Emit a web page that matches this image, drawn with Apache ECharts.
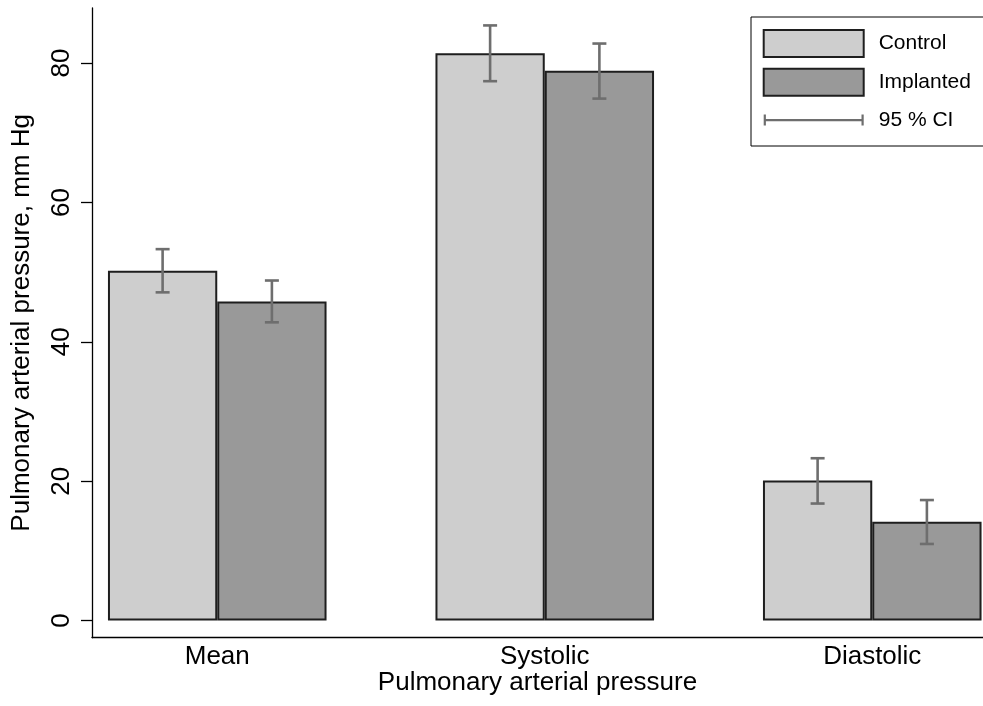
<!DOCTYPE html>
<html>
<head>
<meta charset="utf-8">
<script src="https://cdn.jsdelivr.net/npm/echarts@6/dist/echarts.min.js"></script>
<style>
html,body{margin:0;padding:0;background:#fff;}
#chart{width:983px;height:706px;}
</style>
</head>
<body>
<div id="chart"></div>
<script>
var categories = ['Mean', 'Systolic', 'Diastolic'];
var seriesNames = ['Control', 'Implanted'];
var controlValues = [50.2, 81.4, 20.1];
var implantedValues = [45.8, 78.9, 14.2];
var controlLow = [47.1, 77.4, 16.8];
var controlHigh = [53.3, 85.4, 23.3];
var implantedLow = [42.8, 74.9, 11.0];
var implantedHigh = [48.8, 82.8, 17.3];
var yTicks = [0, 20, 40, 60, 80];
var ciName = '95 % CI';

var FONT = '"Liberation Sans", Arial, Helvetica, sans-serif';
var yMin = -2.45, yMax = 87.9;
var barFrac = 0.3337;

var errData = [];
for (var i = 0; i < categories.length; i++) {
  errData.push([i, controlLow[i], controlHigh[i], -1]);
  errData.push([i, implantedLow[i], implantedHigh[i], 1]);
}

function renderErr(params, api) {
  var idx = api.value(0);
  var lo = api.coord([idx, api.value(1)]);
  var hi = api.coord([idx, api.value(2)]);
  var side = api.value(3);
  var band = api.size([1, 0])[0];
  var x = lo[0] + side * band * barFrac / 2;
  var cap = 7;
  var st = {stroke: '#6e6e6e', lineWidth: 2.6, fill: null};
  return {
    type: 'group',
    children: [
      {type: 'line', shape: {x1: x, y1: lo[1], x2: x, y2: hi[1]}, style: st},
      {type: 'line', shape: {x1: x - cap, y1: lo[1], x2: x + cap, y2: lo[1]}, style: st},
      {type: 'line', shape: {x1: x - cap, y1: hi[1], x2: x + cap, y2: hi[1]}, style: st}
    ]
  };
}

var chart = echarts.init(document.getElementById('chart'), null, {renderer: 'canvas'});
var barStyle = function (c) {
  return {color: c, borderColor: '#1e1e1e', borderWidth: 2};
};
chart.setOption({
  animation: false,
  backgroundColor: '#ffffff',
  textStyle: {fontFamily: FONT},
  grid: [
    {left: 53.5, width: 982.5, top: 8, bottom: 68.3, containLabel: false, outerBoundsMode: 'none'},
    {left: 92, right: 0, top: 8, bottom: 68.3, containLabel: false, outerBoundsMode: 'none'}
  ],
  legend: {
    orient: 'vertical',
    left: 751,
    top: 17,
    itemWidth: 100,
    itemHeight: 27,
    itemGap: 9.7,
    padding: [12, 14, 12.6, 11.7],
    borderColor: '#000',
    borderWidth: 1,
    backgroundColor: '#fff',
    textStyle: {fontFamily: FONT, fontSize: 21, color: '#000', padding: [0, 0, 0, 10]},
    data: [
      {name: seriesNames[0], icon: 'rect'},
      {name: seriesNames[1], icon: 'rect'},
      {name: ciName,
       icon: 'path://M50,0h0.01v0.01h-0.01z M50,26.99h0.01v0.01h-0.01z M0,8h2.2v11h-2.2z M0,12.5h100v2.4h-100z M97.8,8h2.2v11h-2.2z',
       itemStyle: {color: '#6e6e6e', borderWidth: 0}}
    ]
  },
  xAxis: [
    {
      type: 'category', gridIndex: 0, data: categories,
      axisLine: {show: false}, axisTick: {show: false},
      axisLabel: {fontSize: 26, color: '#000', fontFamily: FONT, margin: 6},
      splitLine: {show: false}
    },
    {
      type: 'value', gridIndex: 1, min: 0, max: 1,
      axisLine: {show: true, onZero: false, lineStyle: {color: '#000', width: 1.3}},
      axisTick: {show: false}, axisLabel: {show: false}, splitLine: {show: false},
      name: 'Pulmonary arterial pressure', nameLocation: 'middle', nameGap: 45,
      nameTextStyle: {fontSize: 26, color: '#000', fontFamily: FONT, verticalAlign: 'middle'}
    }
  ],
  yAxis: [
    {
      type: 'value', gridIndex: 0, min: yMin, max: yMax, show: false,
      splitLine: {show: false}
    },
    {
      type: 'value', gridIndex: 1, min: yMin, max: yMax,
      axisLine: {show: true, onZero: false, lineStyle: {color: '#000', width: 1.3}},
      axisTick: {show: true, length: 11, customValues: yTicks, lineStyle: {color: '#000', width: 1.3}},
      axisLabel: {show: true, rotate: 90, customValues: yTicks, fontSize: 26, color: '#000', fontFamily: FONT, margin: 17},
      splitLine: {show: false},
      name: 'Pulmonary arterial pressure, mm Hg', nameLocation: 'middle', nameGap: 70,
      nameTextStyle: {fontSize: 26, color: '#000', fontFamily: FONT, verticalAlign: 'middle'}
    }
  ],
  series: [
    {
      name: seriesNames[0], type: 'bar', xAxisIndex: 0, yAxisIndex: 0,
      data: controlValues, barWidth: (barFrac * 100) + '%', barGap: '0%',
      itemStyle: barStyle('#cecece')
    },
    {
      name: seriesNames[1], type: 'bar', xAxisIndex: 0, yAxisIndex: 0,
      data: implantedValues, barWidth: (barFrac * 100) + '%', barGap: '0%',
      itemStyle: barStyle('#999999')
    },
    {
      name: ciName, type: 'custom', xAxisIndex: 0, yAxisIndex: 0,
      data: errData, renderItem: renderErr, z: 5,
      itemStyle: {color: '#6e6e6e'},
      encode: {x: 0, y: [1, 2]}
    }
  ]
});
</script>
</body>
</html>
